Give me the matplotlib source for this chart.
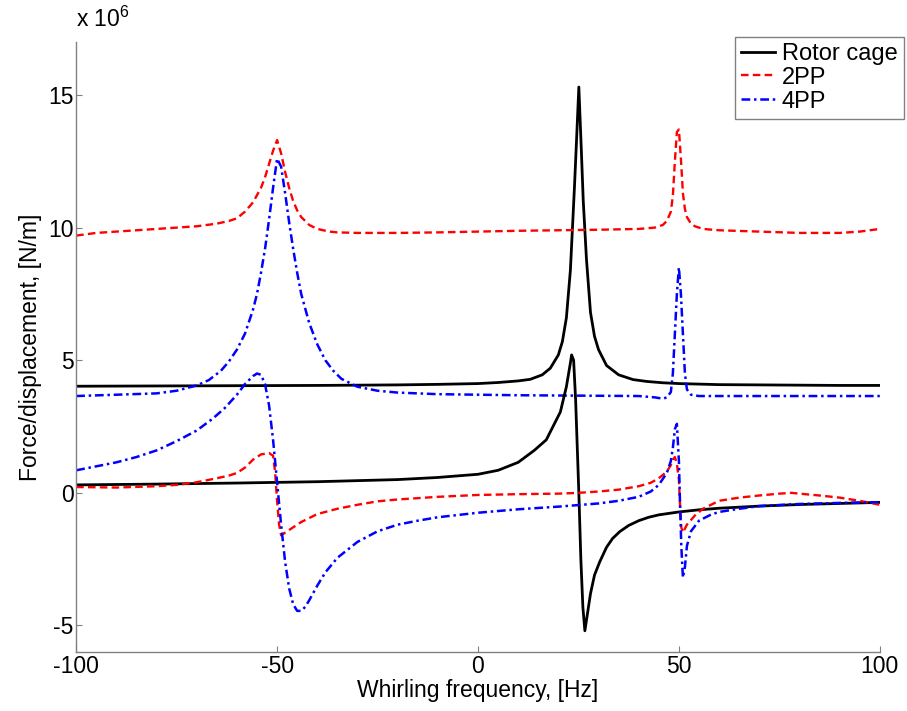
import numpy as np
import matplotlib
matplotlib.use("Agg")
import matplotlib.pyplot as plt

plt.rcParams['font.family'] = ['Liberation Sans', 'DejaVu Sans']
plt.rcParams['mathtext.fontset'] = 'custom'
plt.rcParams['mathtext.rm'] = 'Liberation Sans'
plt.rcParams['axes.unicode_minus'] = False

# values in units of 1e6 N/m
rc_up_x = [-100, -80, -60, -40, -20, -10, 0, 5, 10, 13, 16, 18, 20, 21, 22, 23, 24, 24.5, 25.1,
           25.7, 26.2, 27, 28, 29, 30, 32, 35, 38.6, 42, 46, 50, 55, 60, 70, 80, 90, 100]
rc_up_y = [4.02, 4.03, 4.04, 4.05, 4.07, 4.09, 4.12, 4.16, 4.22, 4.28, 4.45, 4.7, 5.2, 5.7, 6.6, 8.4, 11.5, 13.2, 15.3,
           13.0, 11.0, 8.8, 6.8, 5.9, 5.4, 4.8, 4.45, 4.27, 4.2, 4.15, 4.12, 4.1, 4.08, 4.07, 4.06, 4.05, 4.05]

rc_lo_x = [-100, -80, -60, -40, -20, -10, 0, 5, 10, 14, 17, 19, 20.5, 22, 23, 23.3, 23.8, 24.3, 25.1,
           25.6, 26.1, 26.6, 27.2, 28, 29, 30.3, 32, 33.5, 35.3, 37.5, 40, 42.5, 45, 50, 55, 60, 70, 80, 90, 100]
rc_lo_y = [0.3, 0.33, 0.37, 0.42, 0.5, 0.58, 0.7, 0.85, 1.15, 1.6, 2.0, 2.6, 3.05, 4.0, 4.9, 5.2, 5.0, 3.5, 0.0,
           -2.5, -4.3, -5.2, -4.6, -3.8, -3.1, -2.6, -2.05, -1.72, -1.46, -1.23, -1.05, -0.92, -0.83, -0.72, -0.64, -0.58, -0.5, -0.44, -0.4, -0.36]

pp2_up_x = [-100, -95, -90, -85, -80, -75, -70, -65, -62, -60, -58, -56, -54, -53, -52, -51, -50, -49, -48, -47,
            -46, -45, -44, -42, -40, -37, -35, -30, -20, -10, 0, 10, 20, 30, 40, 44, 46, 47, 48, 48.5,
            49, 49.5, 50, 50.5, 51, 51.5, 52, 53, 54, 56, 60, 70, 80, 90, 95, 100]
pp2_up_y = [9.7, 9.8, 9.85, 9.9, 9.95, 10.0, 10.05, 10.15, 10.25, 10.35, 10.6, 10.95, 11.5, 11.9, 12.4, 12.9, 13.3, 12.8, 12.1, 11.5,
            11.0, 10.65, 10.4, 10.1, 9.95, 9.85, 9.82, 9.8, 9.8, 9.82, 9.85, 9.88, 9.9, 9.92, 9.95, 10.0, 10.1, 10.25, 10.6, 11.2,
            12.5, 13.6, 13.7, 12.6, 11.3, 10.7, 10.4, 10.15, 10.05, 9.95, 9.9, 9.85, 9.8, 9.8, 9.85, 9.95]

pp2_lo_x = [-100, -90, -80, -75, -70, -65, -62, -60, -58, -56, -54, -52, -51, -50.5, -50, -49.5, -49, -48, -46, -44,
            -42, -40, -35, -30, -25, -20, -10, 0, 10, 20, 25, 30, 35, 40, 43, 45, 47, 48, 48.5, 49,
            49.5, 50, 50.3, 50.6, 51, 52, 54, 56, 60, 65, 70, 75, 78, 80, 85, 90, 95, 100]
pp2_lo_y = [0.22, 0.2, 0.25, 0.3, 0.4, 0.55, 0.65, 0.75, 0.95, 1.25, 1.45, 1.5, 1.4, 0.8, -0.3, -1.2, -1.6, -1.5, -1.3, -1.1,
            -0.95, -0.8, -0.6, -0.45, -0.32, -0.25, -0.15, -0.08, -0.05, -0.03, 0.0, 0.05, 0.12, 0.25, 0.38, 0.55, 0.8, 1.05, 1.25, 1.35,
            1.1, 0.5, -0.5, -1.3, -1.5, -1.2, -0.85, -0.6, -0.3, -0.18, -0.1, -0.03, 0.0, -0.03, -0.1, -0.18, -0.3, -0.45]

pp4_up_x = [-100, -90, -80, -75, -70, -67, -64, -62, -60, -58, -56, -55, -54, -53, -52, -51, -50, -49, -48, -47,
            -46, -45, -44, -42, -40, -38, -36, -34, -30, -25, -20, -10, 0, 10, 20, 30, 40, 44, 46, 47,
            48, 48.5, 49, 49.5, 50, 50.5, 51, 51.5, 52, 53, 55, 60, 70, 80, 90, 100]
pp4_up_y = [3.65, 3.7, 3.75, 3.85, 4.05, 4.25, 4.6, 4.95, 5.4, 6.0, 6.9, 7.5, 8.3, 9.2, 10.3, 11.5, 12.6, 12.3, 11.3, 10.2,
            9.2, 8.3, 7.5, 6.4, 5.6, 5.0, 4.6, 4.3, 4.0, 3.85, 3.78, 3.72, 3.7, 3.68, 3.67, 3.66, 3.65, 3.6, 3.55, 3.6,
            3.8, 4.5, 6.0, 7.5, 8.5, 7.5, 6.0, 4.5, 3.9, 3.7, 3.65, 3.65, 3.65, 3.65, 3.65, 3.65]

pp4_lo_x = [-100, -95, -90, -85, -80, -75, -70, -66, -63, -60, -58, -56, -55, -54, -53, -52, -51, -50, -49, -48,
            -47, -46, -45, -44, -43, -42, -40, -38, -35, -30, -25, -20, -15, -10, 0, 10, 20, 30, 35, 40,
            43, 45, 47, 48, 48.5, 49, 49.5, 50, 50.3, 50.6, 51, 51.5, 52, 53, 55, 58, 60, 65, 70, 80, 90, 100]
pp4_lo_y = [0.85, 1.0, 1.15, 1.35, 1.6, 1.95, 2.35, 2.8, 3.2, 3.7, 4.1, 4.4, 4.5, 4.45, 4.1, 3.3, 2.0, 0.4, -1.2, -2.6,
            -3.6, -4.2, -4.45, -4.45, -4.3, -4.05, -3.5, -3.0, -2.45, -1.85, -1.45, -1.2, -1.05, -0.92, -0.75, -0.62, -0.52, -0.4, -0.3, -0.15,
            0.05, 0.3, 0.75, 1.2, 1.7, 2.4, 2.6, 1.2, -0.5, -2.0, -3.2, -2.8, -2.0, -1.45, -1.05, -0.82, -0.72, -0.6, -0.5, -0.42, -0.38, -0.35]

xticks = [-100, -50, 0, 50, 100]
yticks = [-5, 0, 5, 10, 15]

fs = 16.5
fig = plt.figure(figsize=(9.07, 7.11), dpi=100)
ax = fig.add_axes([0.084, 0.083, 0.886, 0.858])

dashdot = (0, (3.5, 1.5, 1, 1.5))
ax.plot(rc_up_x, rc_up_y, color='black', lw=2.0, label='Rotor cage')
ax.plot(pp2_up_x, pp2_up_y, color='red', lw=1.7, ls='--', dashes=(3.2, 1.8), label='2PP')
ax.plot(pp4_up_x, pp4_up_y, color='blue', lw=1.8, ls=dashdot, label='4PP')
ax.plot(rc_lo_x, rc_lo_y, color='black', lw=2.0)
ax.plot(pp2_lo_x, pp2_lo_y, color='red', lw=1.7, ls='--', dashes=(3.2, 1.8))
ax.plot(pp4_lo_x, pp4_lo_y, color='blue', lw=1.8, ls=dashdot)

ax.set_xlim(-100, 100)
ax.set_ylim(-6, 17)
ax.set_xticks(xticks)
ax.set_yticks(yticks)
ax.tick_params(direction='in', length=4, width=0.8, color='#808080', labelsize=fs, pad=2)
for s in ['top', 'right']:
    ax.spines[s].set_visible(False)
for s in ['left', 'bottom']:
    ax.spines[s].set_color('#808080')
    ax.spines[s].set_linewidth(1.0)

ax.set_xlabel('Whirling frequency, [Hz]', fontsize=fs, labelpad=1)
ax.set_ylabel('Force/displacement, [N/m]', fontsize=fs, labelpad=4)
fig.text(0.084, 0.955, r'x 10$^6$', fontsize=fs, ha='left', va='bottom')

leg = ax.legend(loc='upper left', bbox_to_anchor=(0.810, 0.948), bbox_transform=fig.transFigure,
                fontsize=17, frameon=True, fancybox=False, handlelength=1.45, handletextpad=0.3,
                labelspacing=0.08, borderpad=0.25, borderaxespad=0)
leg.get_frame().set_edgecolor('#606060')
leg.get_frame().set_linewidth(1.0)

fig.savefig('out.png', dpi=100)
